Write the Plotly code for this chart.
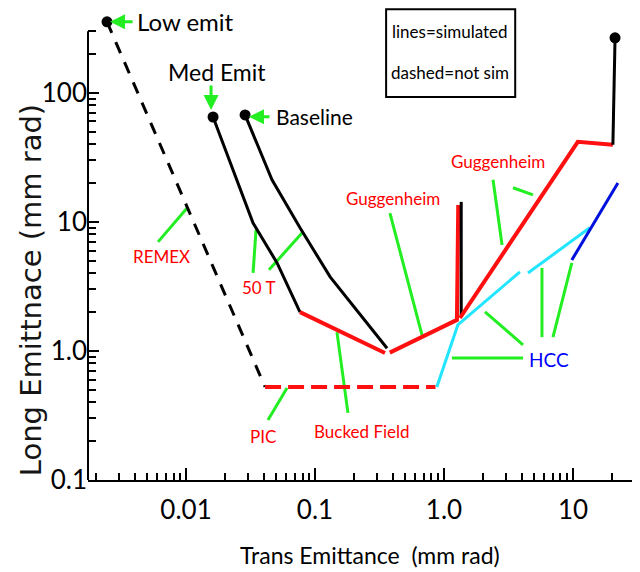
import math
import plotly.graph_objects as go

# ---------------- data ----------------
low_x = [0.00244, 0.041]
low_y = [355, 0.526]
med_x = [0.0162, 0.0248, 0.0331, 0.0508, 0.0765]
med_y = [65, 21.2, 9.8, 4.81, 2.0]
base_x = [0.0287, 0.0464, 0.0765, 0.131, 0.362]
base_y = [67.5, 21.2, 9.0, 3.75, 1.05]
pic_x = [0.041, 0.86]
pic_y = [0.526, 0.526]
bucked_x = [0.0765, 0.349]
bucked_y = [2.0, 0.965]
gugg1_x = [0.38, 1.26, 1.29]
gugg1_y = [0.97, 1.74, 13.5]
spike_x = [1.36, 1.36]
spike_y = [1.87, 14.3]
gugg2_x = [1.33, 10.9, 20.4]
gugg2_y = [1.8, 41.7, 39.6]
top_x = [20.4, 21.2]
top_y = [39.6, 267]
hcc1_x = [0.88, 1.28, 3.88]
hcc1_y = [0.526, 1.59, 4.1]
hcc2_x = [4.48, 13.5]
hcc2_y = [4.02, 9.0]
hcc3_x = [9.8, 22.3]
hcc3_y = [5.07, 20.0]

start_x = [0.00244, 0.0162, 0.0287, 21.2]
start_y = [355, 65, 67.5, 267]

# callout leader lines: (x0, y0, x1, y1)
callouts = [
    (0.00607, 7.0, 0.0102, 12.8),     # REMEX
    (0.0331, 4.02, 0.0349, 8.67),     # 50 T
    (0.044, 4.25, 0.0793, 8.2),       # 50 T
    (0.0432, 0.292, 0.0607, 0.517),   # PIC
    (0.148, 1.40, 0.180, 0.331),      # Bucked Field
    (0.381, 11.7, 0.675, 1.33),       # Guggenheim (lower)
    (2.40, 21.2, 2.82, 6.63),         # Guggenheim (upper)
    (3.43, 18.4, 4.90, 16.2),         # Guggenheim (upper)
    (1.153, 0.883, 4.10, 0.883),      # HCC
    (2.08, 2.01, 4.10, 1.113),        # HCC
    (5.75, 4.40, 5.75, 1.28),         # HCC
    (9.80, 4.81, 7.0, 1.28),          # HCC
]

# label texts and positions
labels = [
    ("REMEX", 0.0064, 5.35, "red", 17),
    ("50 T", 0.0368, 3.13, "red", 17),
    ("Guggenheim", 0.402, 15.3, "red", 17),
    ("Guggenheim", 2.62, 29.2, "red", 17),
    ("HCC", 6.52, 0.852, "blue", 19),
    ("PIC", 0.0395, 0.219, "red", 17),
    ("Bucked Field", 0.231, 0.236, "red", 17),
]

x_tickvals = [0.01, 0.1, 1, 10]
x_ticktext = ["0.01", "0.1", "1.0", "10"]
y_tickvals = [0.1, 1, 10, 100]
y_ticktext = ["0.1", "1.0", "10", "100"]

FONT = "Lato, Liberation Sans, sans-serif"
GREEN = "#22ee22"

fig = go.Figure()

def line(x, y, color, width=3, dash="solid"):
    fig.add_trace(go.Scatter(x=x, y=y, mode="lines",
                             line=dict(color=color, width=width, dash=dash),
                             hoverinfo="skip", showlegend=False))

for (x0, y0, x1, y1) in callouts:
    line([x0, x1], [y0, y1], GREEN, 3)

line(low_x, low_y, "black", 3, "12px,10px")
line(med_x, med_y, "black", 3)
line(base_x, base_y, "black", 3)
line(pic_x, pic_y, "#ff1010", 4, "16px,7px")
line(bucked_x, bucked_y, "#ff1010", 4)
line(gugg1_x, gugg1_y, "#ff1010", 4)
line(spike_x, spike_y, "black", 3)
line(gugg2_x, gugg2_y, "#ff1010", 4)
line(top_x, top_y, "black", 3)
line(hcc1_x, hcc1_y, "#22e5ff", 3)
line(hcc2_x, hcc2_y, "#22e5ff", 3)
line(hcc3_x, hcc3_y, "#0010dd", 3)

fig.add_trace(go.Scatter(x=start_x, y=start_y, mode="markers",
                         marker=dict(color="black", size=11),
                         cliponaxis=False, hoverinfo="skip", showlegend=False))

L = math.log10
ann = []
for text, x, y, color, size in labels:
    ann.append(dict(x=L(x), y=L(y), xref="x", yref="y", text=text, showarrow=False,
                    xanchor="center", yanchor="middle",
                    font=dict(family=FONT, size=size, color=color)))

# black labels with green arrows
ann.append(dict(x=L(0.00402), y=L(355), xref="x", yref="y", text="Low emit",
                xanchor="left", yanchor="middle", showarrow=False,
                font=dict(family=FONT, size=24, color="black")))
ann.append(dict(x=L(0.0174), y=L(145), xref="x", yref="y", text="Med Emit",
                xanchor="center", yanchor="middle",
                showarrow=False, font=dict(family=FONT, size=23, color="black")))
ann.append(dict(x=L(0.0481), y=L(65.2), xref="x", yref="y", text="Baseline",
                xanchor="left", yanchor="middle", showarrow=False,
                font=dict(family=FONT, size=21, color="black")))
for xt, yt, axp, ayp in [(-2.589, 2.550, 24, 0), (-1.806, 1.868, 0, -26), (-1.512, 1.814, 22, 0)]:
    ann.append(dict(x=xt, y=yt, xref="x", yref="y", text="", showarrow=True,
                    ax=axp, ay=ayp, axref="pixel", ayref="pixel",
                    arrowhead=2, arrowsize=1, arrowwidth=3, arrowcolor=GREEN))

# note box
ann.append(dict(x=0.662, y=0.970, xref="paper", yref="paper", text="lines=simulated",
                xanchor="center", yanchor="middle",
                showarrow=False, font=dict(family=FONT, size=17, color="black")))
ann.append(dict(x=0.662, y=0.883, xref="paper", yref="paper", text="dashed=not sim",
                xanchor="center", yanchor="middle",
                showarrow=False, font=dict(family=FONT, size=17, color="black")))

# axis titles
ann.append(dict(x=0.516, y=-0.162, xref="paper", yref="paper",
                xanchor="center", yanchor="middle",
                text="Trans Emittance  (mm rad)", showarrow=False,
                font=dict(family=FONT, size=23, color="black")))
ann.append(dict(x=-0.104, y=0.411, xref="paper", yref="paper",
                xanchor="center", yanchor="middle",
                text="Long Emittnace (mm rad)", textangle=-90, showarrow=False,
                font=dict(family="DejaVu Sans", size=29, color="#151515")))

Y_TOP = 2.58
shapes = [
    dict(type="rect", xref="paper", yref="paper",
         x0=0.545, x1=0.781, y0=0.829, y1=1.019,
         line=dict(color="black", width=2), fillcolor="rgba(0,0,0,0)"),
    # left axis line, ending at 300 like the reference
    dict(type="line", xref="paper", yref="paper", x0=0, x1=0,
         y0=0, y1=(L(300) + 1) / (Y_TOP + 1), line=dict(color="black", width=2)),
]

minor_x = [m * 10 ** e for e in range(-3, 2) for m in range(2, 10)]
minor_y = [m * 10 ** e for e in range(-1, 3) for m in range(2, 4 if e == 2 else 10)]

fig.update_layout(
    width=640, height=572,
    margin=dict(l=80, r=13, t=10, b=100),
    paper_bgcolor="white", plot_bgcolor="white",
    showlegend=False,
    annotations=ann, shapes=shapes,
    xaxis=dict(type="log", range=[-2.76, 1.481], showgrid=False, zeroline=False,
               showline=True, linecolor="black", linewidth=2,
               tickmode="array", tickvals=x_tickvals, ticktext=x_ticktext,
               ticks="inside", ticklen=12, tickwidth=2, tickcolor="black",
               ticklabelstandoff=6,
               tickfont=dict(family=FONT, size=26, color="black"),
               minor=dict(tickmode="array", tickvals=minor_x, ticks="inside",
                          ticklen=7, tickwidth=2, tickcolor="black", showgrid=False)),
    yaxis=dict(type="log", range=[-1, Y_TOP], showgrid=False, zeroline=False,
               showline=False,
               tickmode="array", tickvals=y_tickvals, ticktext=y_ticktext,
               ticks="inside", ticklen=11, tickwidth=2, tickcolor="black",
               ticklabelstandoff=0,
               tickfont=dict(family=FONT, size=26, color="black"),
               minor=dict(tickmode="array", tickvals=minor_y, ticks="inside",
                          ticklen=8, tickwidth=2, tickcolor="black", showgrid=False)),
)

fig.write_html("out.html")
